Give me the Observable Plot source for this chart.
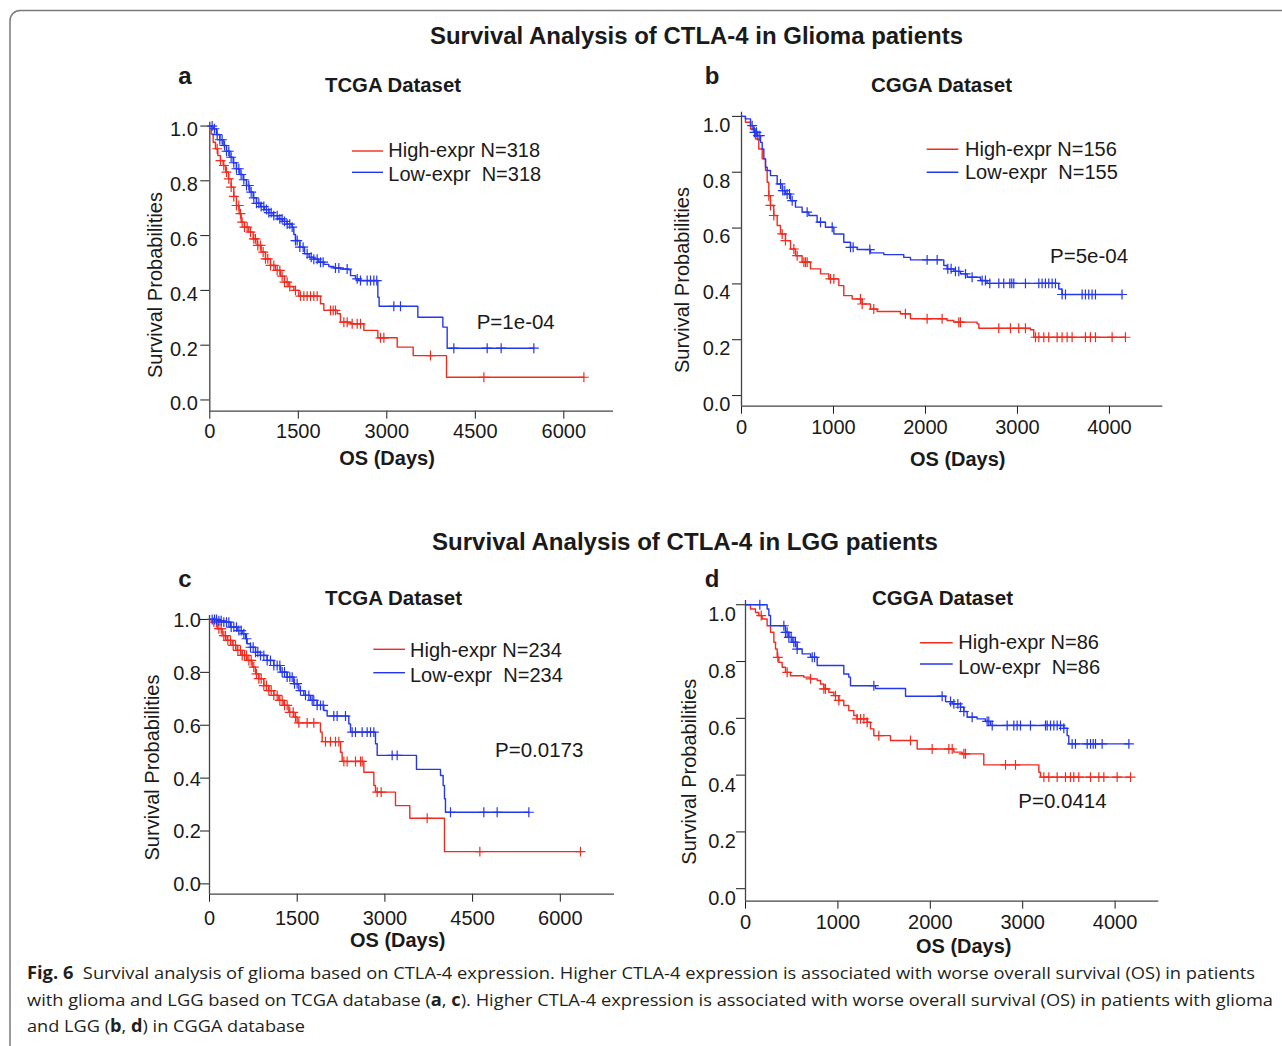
<!DOCTYPE html>
<html><head><meta charset="utf-8">
<script src="https://cdn.jsdelivr.net/npm/d3@7"></script>
<script src="https://cdn.jsdelivr.net/npm/@observablehq/plot@0.6"></script>
<style>
html,body{margin:0;padding:0;background:#fff;}
#stage{position:relative;width:1282px;height:1046px;overflow:hidden;background:#fff;}
#stage svg{position:absolute;}
</style></head><body><div id="stage"></div>
<script>
// ---------------- data ----------------
const xTicksTCGA = [0, 1500, 3000, 4500, 6000];
const xTicksCGGA = [0, 1000, 2000, 3000, 4000];
const yTicks = [0, 0.2, 0.4, 0.6, 0.8, 1.0];
const groupLabels = ["High-expr", "Low-expr"];
const nA = [318, 318], nB = [156, 155], nC = [234, 234], nD = [86, 86];
const pValues = ["P=1e-04", "P=5e-04", "P=0.0173", "P=0.0414"];

// Panel a: TCGA glioma
const aHighTime = [0,23,57,96,136,181,226,271,317,362,407,452,497,531,588,661,735,803,870,944,1029,1113,1198,1266,1339,1424,1509,1876,1933,2159,2215,2385,2611,2848,3176,3447,4012,6340];
const aHighSurv = [1.0,0.971,0.941,0.917,0.892,0.874,0.856,0.832,0.807,0.777,0.743,0.710,0.680,0.649,0.631,0.613,0.588,0.564,0.540,0.515,0.491,0.473,0.452,0.430,0.414,0.400,0.379,0.351,0.327,0.315,0.284,0.278,0.254,0.227,0.193,0.162,0.083,0.083];
const aHighCensor = [125,181,238,283,322,362,407,452,492,520,548,588,633,690,746,774,814,859,904,944,983,1029,1085,1142,1187,1226,1266,1311,1356,1452,1537,1594,1650,1707,1763,1820,2046,2091,2130,2272,2328,2413,2498,2554,2893,2950,3741,4645,6340];
const aLowTime = [0,57,113,170,226,283,339,396,452,509,565,622,678,735,791,859,927,1000,1074,1153,1232,1311,1396,1424,1452,1526,1605,1684,1763,1848,1933,2017,2102,2215,2356,2385,2469,2526,2848,2870,3526,3950,4023,5492];
const aLowSurv = [1.0,0.990,0.969,0.950,0.929,0.908,0.886,0.866,0.844,0.823,0.804,0.783,0.759,0.738,0.718,0.706,0.695,0.684,0.673,0.661,0.652,0.642,0.631,0.604,0.582,0.558,0.534,0.521,0.514,0.503,0.495,0.487,0.482,0.478,0.475,0.454,0.442,0.436,0.375,0.342,0.302,0.266,0.189,0.189];
const aLowCensor = [40,79,125,170,209,249,283,322,362,407,452,492,531,577,622,661,701,746,791,831,870,916,961,1000,1040,1085,1142,1187,1226,1266,1311,1356,1396,1452,1481,1526,1582,1650,1718,1763,1820,1876,1921,2130,2187,2328,2498,2554,2667,2724,2780,2830,3119,3232,4136,4701,4938,5492];

// Panel b: CGGA glioma
const bHighTime = [0,43,98,152,188,225,261,279,297,315,351,388,424,478,533,587,659,750,859,949,1058,1112,1203,1312,1402,1475,1728,1837,2235,2308,2561,2580,3141,3177,4174];
const bHighSurv = [1.0,0.979,0.955,0.919,0.883,0.848,0.806,0.764,0.716,0.681,0.645,0.609,0.579,0.555,0.525,0.501,0.478,0.454,0.436,0.418,0.394,0.358,0.346,0.328,0.310,0.301,0.293,0.275,0.269,0.263,0.257,0.241,0.236,0.209,0.209];
const bHighCensor = [297,315,351,442,478,569,605,678,696,714,967,1004,1293,1312,1438,1782,2018,2181,2362,2380,2797,2924,3014,3087,3196,3232,3286,3340,3431,3485,3540,3594,3739,3793,3848,4029,4174];
const bLowTime = [0,43,98,134,170,207,225,243,261,279,315,388,442,478,533,587,659,732,822,913,1004,1112,1185,1257,1402,1547,1764,1837,2199,2235,2308,2380,2453,2598,2670,3449,3485,4137];
const bLowSurv = [1.0,0.991,0.967,0.943,0.931,0.907,0.883,0.848,0.818,0.806,0.788,0.758,0.734,0.722,0.698,0.675,0.657,0.645,0.621,0.603,0.579,0.549,0.531,0.523,0.511,0.505,0.495,0.486,0.466,0.454,0.445,0.436,0.424,0.412,0.402,0.382,0.362,0.362];
const bLowCensor = [116,141,163,178,199,424,449,471,496,522,551,714,859,986,1185,1214,1395,2018,2127,2243,2279,2326,2362,2435,2507,2616,2652,2699,2797,2851,2917,2938,2960,3087,3232,3268,3304,3340,3377,3413,3485,3522,3703,3739,3775,3811,3848,4137];

// Panel c: TCGA LGG
const cHighTime = [0,46,131,217,302,388,473,559,644,730,787,844,929,1015,1100,1186,1271,1357,1442,1499,1898,1927,2241,2269,2640,2811,2839,3181,3426,4019,6345];
const cHighSurv = [1.0,0.990,0.965,0.939,0.921,0.902,0.883,0.864,0.845,0.820,0.794,0.776,0.750,0.731,0.713,0.694,0.675,0.649,0.631,0.609,0.574,0.538,0.498,0.463,0.422,0.372,0.347,0.296,0.248,0.122,0.122];
const cHighCensor = [74,120,160,200,245,274,314,359,405,445,485,530,559,599,633,673,713,758,804,844,884,929,975,1015,1055,1100,1157,1203,1243,1283,1328,1374,1431,1471,1528,1670,1784,1984,2069,2155,2212,2298,2354,2497,2583,2611,2868,2936,3723,4624,6345];
const cLowTime = [0,131,245,359,473,559,616,644,701,787,872,986,1100,1214,1328,1442,1528,1613,1727,1841,1955,2012,2383,2412,2839,2868,3540,3951,3996,4019,4036,5462];
const cLowSurv = [1.0,0.995,0.990,0.971,0.958,0.946,0.927,0.908,0.895,0.876,0.864,0.845,0.826,0.801,0.782,0.757,0.731,0.713,0.694,0.675,0.656,0.635,0.605,0.574,0.530,0.486,0.433,0.410,0.372,0.322,0.271,0.271];
const cLowCensor = [46,86,120,160,200,245,291,331,371,416,462,502,542,587,633,701,747,787,827,872,929,986,1043,1100,1157,1203,1243,1283,1328,1374,1414,1454,1499,1556,1642,1699,1756,1784,1841,1898,1944,2126,2183,2326,2440,2497,2611,2697,2754,2811,3124,3210,4122,4692,4920,5462];

// Panel d: CGGA LGG
const dHighTime = [0,54,108,144,180,234,271,307,325,343,361,397,433,487,631,704,776,812,848,902,956,1010,1064,1118,1172,1208,1317,1353,1389,1569,1858,2255,2345,2579,3175,3193,4167];
const dHighSurv = [1.0,0.985,0.973,0.962,0.950,0.926,0.903,0.868,0.844,0.815,0.797,0.780,0.762,0.750,0.745,0.739,0.733,0.721,0.704,0.692,0.680,0.663,0.645,0.627,0.610,0.598,0.586,0.563,0.539,0.522,0.492,0.481,0.475,0.436,0.410,0.393,0.393];
const dHighCensor = [170,350,451,704,848,866,974,1010,1208,1245,1281,1317,1443,1786,2020,2201,2237,2363,2381,2814,2922,3229,3283,3373,3463,3517,3553,3607,3734,3824,3878,4022,4167];
const dLowTime = [0,234,253,271,433,469,505,559,613,704,776,1064,1118,1136,1407,1732,2165,2237,2327,2363,2399,2507,2597,2652,3445,3481,3499,4149];
const dLowSurv = [1.0,0.985,0.962,0.926,0.903,0.885,0.868,0.844,0.827,0.815,0.786,0.756,0.745,0.715,0.705,0.678,0.659,0.651,0.639,0.624,0.604,0.598,0.589,0.575,0.565,0.539,0.510,0.510];
const dLowCensor = [155,415,433,451,469,494,523,541,559,722,747,1389,2128,2219,2255,2298,2327,2363,2453,2615,2633,2670,2832,2904,2940,2976,3084,3247,3265,3301,3337,3373,3409,3445,3535,3571,3698,3734,3763,3788,3860,4149];

// ---------------- layout / style ----------------
const RED = "#f22b1f", BLUE = "#2437ee", AXIS = "#444", INK = "#1a1a1a";
const FONT = "'Liberation Sans', Arial, Helvetica, sans-serif";

function steps(T, S) { return T.map((t, i) => ({t, s: S[i]})); }
function censorPts(T, S, C) {
  return C.map(t => { const i = Math.max(0, d3.bisectRight(T, t) - 1); return {t, s: S[i]}; });
}

const panels = [
  {left:160, top:110, W:470, H:335, x0:209.3, x1:613, yT:121.7, yB:410.7, xMax:6842, sTop:1.014, sBot:-0.041,
   xTicks:xTicksTCGA, tickPad:5, ldx:-12, ldy:4,
   high:[aHighTime,aHighSurv,aHighCensor], low:[aLowTime,aLowSurv,aLowCensor]},
  {left:690, top:100, W:490, H:340, x0:741, x1:1162.3, yT:111.7, yB:405.7, xMax:4580, sTop:1.015, sBot:-0.038,
   xTicks:xTicksCGGA, tickPad:6, ldx:-11, ldy:9,
   high:[bHighTime,bHighSurv,bHighCensor], low:[bLowTime,bLowSurv,bLowCensor]},
  {left:160, top:600, W:470, H:335, x0:209, x1:614, yT:615, yB:893.7, xMax:6927, sTop:1.015, sBot:-0.039,
   xTicks:xTicksTCGA, tickPad:9, ldx:-8.5, ldy:1,
   high:[cHighTime,cHighSurv,cHighCensor], low:[cLowTime,cLowSurv,cLowCensor]},
  {left:690, top:590, W:490, H:345, x0:745, x1:1158.3, yT:600, yB:900.7, xMax:4473, sTop:1.015, sBot:-0.044,
   xTicks:xTicksCGGA, tickPad:6, ldx:-9.5, ldy:10,
   high:[dHighTime,dHighSurv,dHighCensor], low:[dLowTime,dLowSurv,dLowCensor]}
];

const stage = document.getElementById("stage");

panels.forEach(p => {
  const chart = Plot.plot({
    width: p.W, height: p.H,
    marginLeft: p.x0 - p.left, marginRight: p.left + p.W - p.x1,
    marginTop: p.yT - p.top, marginBottom: p.top + p.H - p.yB,
    style: {fontFamily: FONT, fontSize: "20px", color: INK, background: "transparent", overflow: "visible", maxWidth: "none"},
    x: {domain: [0, p.xMax], ticks: p.xTicks, tickSize: 8, tickPadding: p.tickPad, tickFormat: d => String(d), label: null},
    y: {domain: [p.sBot, p.sTop], ticks: yTicks, tickSize: 9, tickFormat: () => "", label: null},
    marks: [
      Plot.ruleX([0], {stroke: AXIS, strokeWidth: 1.3}),
      Plot.ruleY([p.sBot], {stroke: AXIS, strokeWidth: 1.3}),
      Plot.text(yTicks, {x: () => 0, y: d => d, text: d => d.toFixed(1), textAnchor: "end",
                         dx: p.ldx, dy: p.ldy, fontSize: 20, fill: INK}),
      Plot.line(steps(p.high[0], p.high[1]), {x: "t", y: "s", curve: "step-after", stroke: RED, strokeWidth: 1.4}),
      Plot.dot(censorPts(...p.high), {x: "t", y: "s", symbol: "plus", r: 3.3, stroke: RED, strokeWidth: 1.2, fill: "none"}),
      Plot.line(steps(p.low[0], p.low[1]), {x: "t", y: "s", curve: "step-after", stroke: BLUE, strokeWidth: 1.4}),
      Plot.dot(censorPts(...p.low), {x: "t", y: "s", symbol: "plus", r: 3.3, stroke: BLUE, strokeWidth: 1.2, fill: "none"})
    ]
  });
  chart.style.position = "absolute";
  chart.style.left = p.left + "px";
  chart.style.top = p.top + "px";
  stage.appendChild(chart);
});

// ---------------- titles, legends, captions (overlay) ----------------
const NS = "http://www.w3.org/2000/svg";
const ov = document.createElementNS(NS, "svg");
ov.setAttribute("width", 1282); ov.setAttribute("height", 1046);
ov.style.left = "0px"; ov.style.top = "0px"; ov.style.fontFamily = FONT;
stage.appendChild(ov);

function el(tag, attrs, parent = ov) {
  const e = document.createElementNS(NS, tag);
  for (const k in attrs) e.setAttribute(k, attrs[k]);
  parent.appendChild(e);
  return e;
}
function txt(s, attrs) { const e = el("text", Object.assign({fill: INK}, attrs)); e.textContent = s; return e; }

el("rect", {x: 10, y: 10.5, width: 1320, height: 1100, rx: 10, fill: "none", stroke: "#7a7a7a", "stroke-width": 1.5});

const fit = (w) => ({textLength: w, lengthAdjust: "spacingAndGlyphs"});
txt("Survival Analysis of CTLA-4 in Glioma patients", Object.assign({x: 430, y: 44.2, "font-size": 23, "font-weight": "bold"}, fit(533)));
txt("Survival Analysis of CTLA-4 in LGG patients", Object.assign({x: 432, y: 550.2, "font-size": 23, "font-weight": "bold"}, fit(506)));

const heads = [
  {letter: "a", lx: 185, ly: 84, title: "TCGA Dataset", tx: 325, ty: 92.2, tw: 136},
  {letter: "b", lx: 712, ly: 84, title: "CGGA Dataset", tx: 871, ty: 92.2, tw: 141},
  {letter: "c", lx: 185, ly: 586.5, title: "TCGA Dataset", tx: 325, ty: 605.2, tw: 137},
  {letter: "d", lx: 712, ly: 586.5, title: "CGGA Dataset", tx: 872, ty: 605.2, tw: 141}
];
heads.forEach(h => {
  txt(h.letter, {x: h.lx, y: h.ly, "font-size": 24, "font-weight": "bold", "text-anchor": "middle"});
  txt(h.title, Object.assign({x: h.tx, y: h.ty, "font-size": 20, "font-weight": "bold"}, fit(h.tw)));
});

const axisTitles = [
  {ox: 339.3, oy: 465.2, bx: 162, cy: 285},
  {ox: 910, oy: 466.2, bx: 689, cy: 280},
  {ox: 350, oy: 947, bx: 159.3, cy: 767.5},
  {ox: 916, oy: 953, bx: 695.7, cy: 771.7}
];
axisTitles.forEach(a => {
  txt("OS (Days)", Object.assign({x: a.ox, y: a.oy, "font-size": 20, "font-weight": "bold"}, fit(95.5)));
  txt("Survival Probabilities", Object.assign({x: 0, y: 0, "font-size": 20, "text-anchor": "middle",
      transform: `translate(${a.bx},${a.cy}) rotate(-90)`}, fit(186)));
});

const legends = [
  {n: nA, x1: 352, x2: 383, ly: [151, 172.3], tx: 388.3, ty: [156.7, 180.7], px: 476.7, py: 329.3},
  {n: nB, x1: 926.7, x2: 958.3, ly: [149.3, 172.3], tx: 965, ty: [155.7, 179], px: 1050, py: 262.7},
  {n: nC, x1: 373.3, x2: 405, ly: [649.3, 672.7], tx: 410, ty: [657.3, 681.7], px: 495, py: 757.3},
  {n: nD, x1: 920, x2: 952.7, ly: [642.7, 664], tx: 958.3, ty: [649.3, 674], px: 1018.3, py: 808.3}
];
legends.forEach((L, i) => {
  [RED, BLUE].forEach((c, j) => {
    el("line", {x1: L.x1, x2: L.x2, y1: L.ly[j], y2: L.ly[j], stroke: c, "stroke-width": 1.4});
    const sep = j === 0 ? " " : "\u00a0\u00a0";
    txt(groupLabels[j] + sep + "N=" + L.n[j], {x: L.tx, y: L.ty[j], "font-size": 20});
  });
  txt(pValues[i], {x: L.px, y: L.py, "font-size": 20.5});
});

// caption
const capLines = [
  {y: 979, w: 1228, parts: [["Fig. 6", true], ["\u00a0 Survival analysis of glioma based on CTLA-4 expression. Higher CTLA-4 expression is associated with worse overall survival (OS) in patients", false]]},
  {y: 1005.5, w: 1246, parts: [["with glioma and LGG based on TCGA database (", false], ["a", true], [", ", false], ["c", true], ["). Higher CTLA-4 expression is associated with worse overall survival (OS) in patients with glioma", false]]},
  {y: 1031.7, w: 278, parts: [["and LGG (", false], ["b", true], [", ", false], ["d", true], [") in CGGA database", false]]}
];
capLines.forEach(l => {
  const t = el("text", Object.assign({x: 27, y: l.y, "font-size": 17, fill: "#231f20", "font-family": "'Open Sans', 'Noto Sans', sans-serif"}, fit(l.w)));
  l.parts.forEach(([s, b]) => {
    const ts = el("tspan", b ? {"font-weight": "bold"} : {}, t);
    ts.textContent = s;
  });
});
</script></body></html>
